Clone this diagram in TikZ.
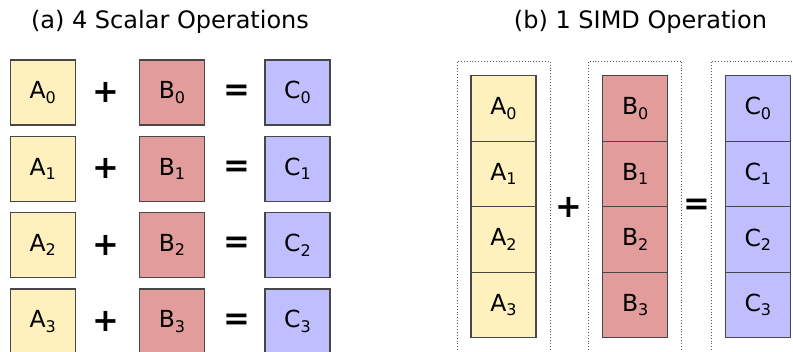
\documentclass[tikz,border=0pt]{standalone}
\usepackage{fontspec}
\setmainfont{DejaVu Sans}
\usetikzlibrary{fit}

\definecolor{acol}{HTML}{FFF1BD}
\definecolor{bcol}{HTML}{E29C9C}
\definecolor{ccol}{HTML}{BFBFFF}
\definecolor{edgecol}{HTML}{474747}
\definecolor{lanecol}{HTML}{5A5A5A}

% register label with a lowered index
\newcommand{\reglabel}[2]{#1{\fontsize{16}{16}\selectfont\raisebox{-4.3pt}{#2}}}

\tikzset{
  reg/.style={draw=edgecol, line width=1.4pt, minimum width=65pt,
    minimum height=65pt, inner sep=0pt, font=\fontsize{23.5}{24}\selectfont},
  rega/.style={reg, fill=acol},
  regb/.style={reg, fill=bcol},
  regc/.style={reg, fill=ccol},
  vreg/.style={minimum height=65.5pt},
  opsym/.style={inner sep=0pt, font=\fontsize{32}{32}\bfseries\selectfont},
  lane/.style={draw=lanecol, dotted, line width=0.9pt, inner xsep=13.3pt, inner ysep=14pt},
  caption/.style={anchor=base, inner sep=0pt, font=\fontsize{24}{24}\selectfont},
}

\begin{document}
\begin{tikzpicture}[x=1pt, y=-1pt]
  \useasboundingbox (0,0) rectangle (793,351);
  \clip (0,0) rectangle (793,351);

  % (a) four scalar additions
  \node[caption] (ta) at (170,28) {(a) 4 Scalar Operations};
  \foreach \i/\y in {0/92.5, 1/168.8, 2/245.2, 3/321.5} {
    \node[rega] (sa\i) at (42.8,\y) {\reglabel{A}{\i}};
    \node[opsym] (sp\i) at (105.5,\y) {+};
    \node[regb] (sb\i) at (172,\y) {\reglabel{B}{\i}};
    \node[opsym] (se\i) at (236.5,\y) {=};
    \node[regc] (sc\i) at (297.5,\y) {\reglabel{C}{\i}};
  }

  % (b) one SIMD addition on packed registers
  \node[caption] (tb) at (640.5,28) {(b) 1 SIMD Operation};
  \foreach \i/\y in {0/108.5, 1/174, 2/239.5, 3/305} {
    \node[rega, vreg] (va\i) at (503.5,\y) {\reglabel{A}{\i}};
    \node[regb, vreg] (vb\i) at (635.2,\y) {\reglabel{B}{\i}};
    \node[regc, vreg] (vc\i) at (757.8,\y) {\reglabel{C}{\i}};
  }
  \node[lane, fit=(va0)(va3)] (la) {};
  \node[lane, fit=(vb0)(vb3)] (lb) {};
  \node[lane, fit=(vc0)(vc3)] (lc) {};

  \node[opsym] (vp) at (569,207) {+};
  \node[opsym] (ve) at (697,206.5) {=};
\end{tikzpicture}
\end{document}
